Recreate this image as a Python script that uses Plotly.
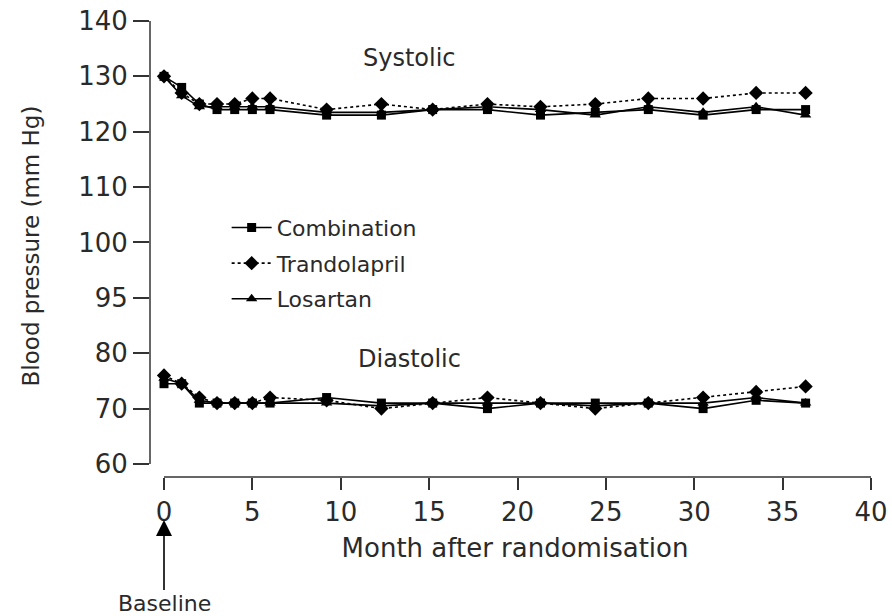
import plotly.graph_objects as go

# ---- data ----
months = [0, 1, 2, 3, 4, 5, 6, 9.2, 12.3, 15.2, 18.3, 21.3, 24.4, 27.4, 30.5, 33.5, 36.3]

sys_combination = [130, 128, 125, 124, 124, 124, 124, 123, 123, 124, 124, 123, 123.5, 124, 123, 124, 124]
sys_trandolapril = [130, 127, 125, 125, 125, 126, 126, 124, 125, 124, 125, 124.5, 125, 126, 126, 127, 127]
sys_losartan = [130, 126.5, 124.5, 124.5, 124.5, 124.5, 124.5, 123.5, 123.5, 124, 124.5, 124, 123, 124.5, 123.5, 124.5, 123]

dia_combination = [74.5, 74.5, 71, 71, 71, 71, 71, 72, 71, 71, 70, 71, 71, 71, 70, 71.5, 71]
dia_trandolapril = [76, 74.5, 72, 71, 71, 71, 72, 71.5, 70, 71, 72, 71, 70, 71, 72, 73, 74]
dia_losartan = [75.5, 74.5, 71.5, 71, 71, 71, 71, 71, 70.5, 71, 71, 71, 70.5, 71, 71, 72, 71]

tick_labels = ["60", "70", "80", "95", "100", "110", "120", "130", "140"]
x_ticks = [0, 5, 10, 15, 20, 25, 30, 35, 40]

# broken axis: equally spaced ticks for non-linear labels
def sys_map(v):
    return 6 + (v - 120) / 10.0

def dia_map(v):
    return (v - 60) / 10.0

FONT = "DejaVu Sans, Arial, sans-serif"
TXT = "#2a2a2a"

series = [
    ("Combination", sys_combination, dia_combination, "square", 9, "solid"),
    ("Trandolapril", sys_trandolapril, dia_trandolapril, "diamond", 11, "dot"),
    ("Losartan", sys_losartan, dia_losartan, "triangle-up", 10, "solid"),
]

fig = go.Figure()
for name, s_vals, d_vals, sym, sz, dash in series:
    for i, vals in enumerate([[sys_map(v) for v in s_vals], [dia_map(v) for v in d_vals]]):
        fig.add_trace(go.Scatter(
            x=months, y=vals, mode="lines+markers", name=name,
            legendgroup=name, showlegend=(i == 0),
            line=dict(color="black", width=1.6, dash=dash),
            marker=dict(symbol=sym, size=sz, color="black"),
        ))

fig.update_layout(
    width=892, height=616,
    margin=dict(l=150, r=12, t=15, b=139, autoexpand=False),
    paper_bgcolor="white", plot_bgcolor="white",
    font=dict(family=FONT, color=TXT, size=23),
    showlegend=True,
    legend=dict(x=0.105, y=0.585, xanchor="left", yanchor="top",
                bgcolor="rgba(0,0,0,0)", font=dict(size=22, family=FONT, color=TXT),
                tracegroupgap=4, itemwidth=40),
    xaxis=dict(range=[-0.792, 40.509], tickvals=x_ticks, ticks="outside", ticklen=12,
               tickwidth=1.5, tickcolor="#333", showline=False, showgrid=False, zeroline=False,
               automargin=False,
               tickfont=dict(size=26, family=FONT, color=TXT),
               title=dict(text="Month after randomisation", standoff=12,
                          font=dict(size=26, family=FONT, color=TXT))),
    yaxis=dict(range=[-0.2348, 8.108], tickvals=list(range(9)), ticktext=tick_labels,
               ticks="outside", ticklen=16, tickwidth=1.5, tickcolor="#333",
               showline=False, showgrid=False, zeroline=False, automargin=False,
               tickfont=dict(size=26, family=FONT, color=TXT),
               title=dict(text="Blood pressure (mm Hg)", standoff=32,
                          font=dict(size=23, family=FONT, color=TXT))),
    shapes=[
        dict(type="line", xref="paper", yref="y", x0=0, x1=0, y0=0, y1=8,
             line=dict(color="#333", width=1.5)),
        dict(type="line", xref="x", yref="paper", x0=0, x1=40, y0=0, y1=0,
             line=dict(color="#333", width=1.5)),
    ],
    annotations=[
        dict(x=13.9, y=sys_map(133.4), xref="x", yref="y", text="Systolic", showarrow=False,
             font=dict(size=24, family=FONT, color=TXT)),
        dict(x=13.9, y=dia_map(79.0), xref="x", yref="y", text="Diastolic", showarrow=False,
             font=dict(size=24, family=FONT, color=TXT)),
        dict(x=0, y=-0.093, xref="x", yref="paper", text="Baseline", showarrow=True,
             ax=0, ay=84, arrowhead=2, arrowsize=2, arrowwidth=1.6, arrowcolor="black",
             font=dict(size=22, family=FONT, color=TXT)),
    ],
)

fig.write_html("out.html")
